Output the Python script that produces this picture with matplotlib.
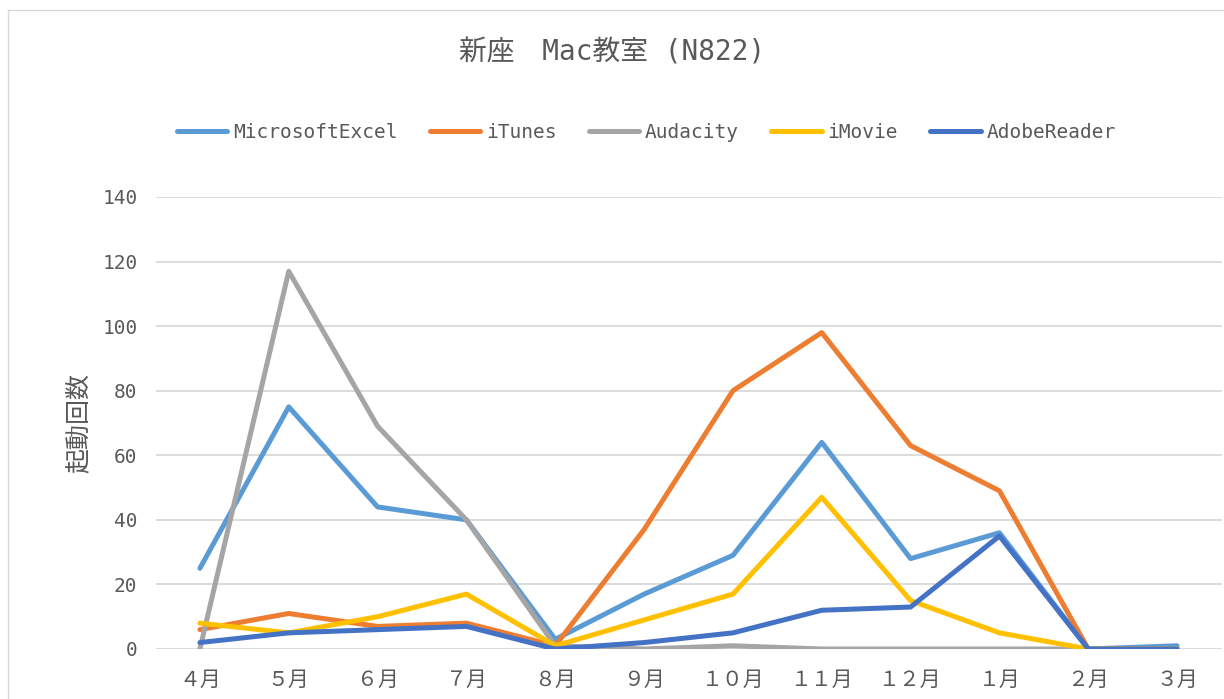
import matplotlib
matplotlib.use("Agg")
import matplotlib.pyplot as plt
from matplotlib.patches import Rectangle

months = ["４月", "５月", "６月", "７月", "８月", "９月", "１０月", "１１月", "１２月", "１月", "２月", "３月"]
excel = [25, 75, 44, 40, 3, 17, 29, 64, 28, 36, 0, 1]
itunes = [6, 11, 7, 8, 1, 37, 80, 98, 63, 49, 0, 0]
audacity = [0, 117, 69, 40, 1, 0, 1, 0, 0, 0, 0, 0]
imovie = [8, 5, 10, 17, 1, 9, 17, 47, 15, 5, 0, 0]
adobe = [2, 5, 6, 7, 0, 2, 5, 12, 13, 35, 0, 0]
series_names = ["MicrosoftExcel", "iTunes", "Audacity", "iMovie", "AdobeReader"]
series_vals = [excel, itunes, audacity, imovie, adobe]
colors = ["#5B9BD5", "#ED7D31", "#A5A5A5", "#FFC000", "#4472C4"]
yticks = [0, 20, 40, 60, 80, 100, 120, 140]
title = "新座　Mac教室 (N822)"
ylabel = "起動回数"

MONO = ["DejaVu Sans Mono", "Noto Sans CJK JP"]
CJK = ["Noto Sans CJK JP", "DejaVu Sans"]
TXT = "#595959"

fig = plt.figure(figsize=(12.24, 6.99), dpi=100)
fig.patches.append(Rectangle((8/1224, -0.01), 1.02, 1 - 10/699 + 0.01, transform=fig.transFigure,
                             fill=False, edgecolor="#d9d9d9", linewidth=1.0))
ax = fig.add_axes([155.5/1224, 50/699, (1221.5-155.5)/1224, (649-197)/699])

x = list(range(len(months)))
lines = []
for name, vals, c in zip(series_names, series_vals, colors):
    ln, = ax.plot(x, vals, color=c, linewidth=3.6, solid_capstyle="round",
                  solid_joinstyle="round", label=name, zorder=3)
    lines.append(ln)

ax.set_xlim(-0.5, len(months) - 0.5)
ax.set_ylim(0, 140)
ax.set_yticks(yticks)
ax.set_yticklabels([str(v) for v in yticks], family=MONO, fontsize=14, color=TXT)
ax.set_xticks(x)
ax.set_xticklabels(months, family=CJK, fontsize=15, color=TXT)
ax.tick_params(length=0, pad=14)
ax.tick_params(axis="y", pad=13)
ax.grid(axis="y", color="#d9d9d9", linewidth=1.3, zorder=0)
ax.set_axisbelow(True)
for s in ax.spines.values():
    s.set_visible(False)

ax.set_ylabel(ylabel, family=CJK, fontsize=18, color=TXT, labelpad=8)

fig.text(0.5, 1 - 53/699, title, ha="center", va="center", family=MONO,
         fontsize=20, color=TXT)

leg = fig.legend(handles=lines, labels=series_names, loc="center",
                 bbox_to_anchor=(0.528, 1 - 132/699), ncol=5, frameon=False,
                 prop={"family": MONO, "size": 14}, handlelength=2.6,
                 handletextpad=0.3, columnspacing=1.65)
for t in leg.get_texts():
    t.set_color(TXT)

fig.savefig("out.png", dpi=100)
